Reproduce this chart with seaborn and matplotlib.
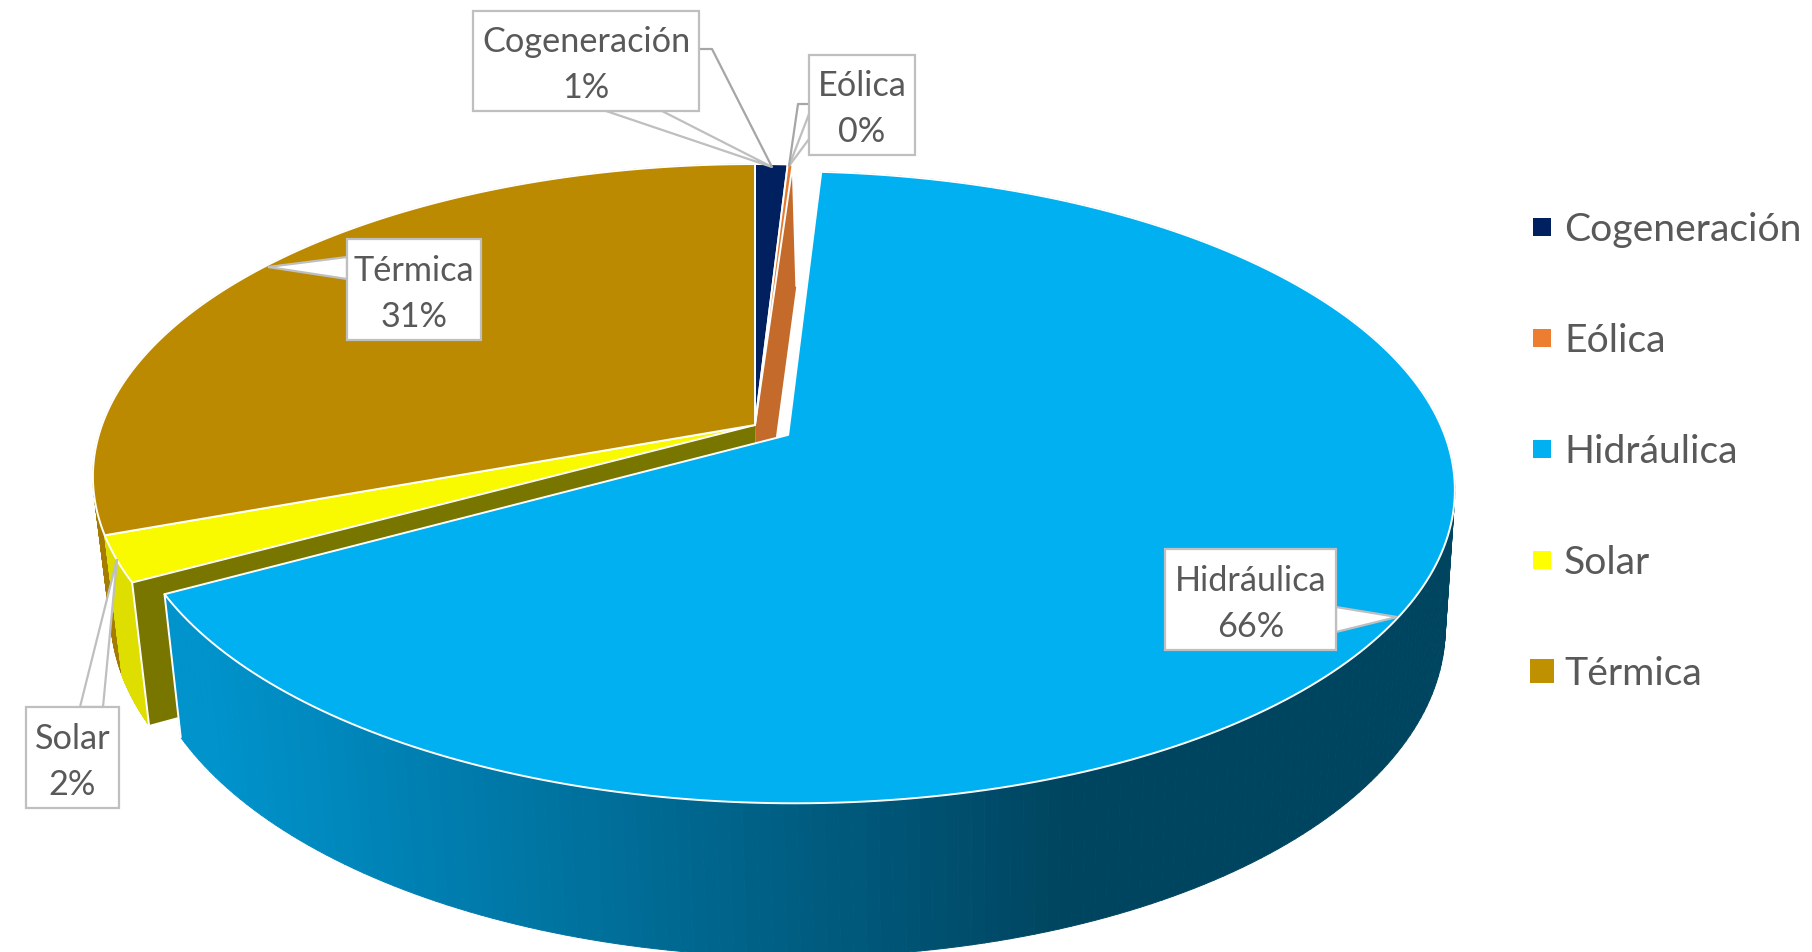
# %%
# Pie chart of generation by source, drawn with a perspective tilt
import numpy as np
import seaborn as sns
import matplotlib.pyplot as plt
from matplotlib.patches import Rectangle, Polygon
from matplotlib.collections import PolyCollection

# Values (percent)
sources = ['Cogeneración', 'Eólica', 'Hidráulica', 'Solar', 'Térmica']
shares = [0.93, 0.14, 66.01, 2.36, 30.56]

legend_colors = sns.color_palette(['#002060', '#ED7D31', '#00B0F0', '#FFFF00', '#BF9000'])
top_colors = ['#002060', '#E5792F', '#00B0F0', '#F9F900', '#BB8A00']
wall_colors = ['#001540', '#C46A2B', '#004560', '#DEDE00', '#A67C00']
text_color = '#595959'
box_color = '#BFBFBF'

# Camera: unit circle to screen pixels
cx, cy = 755, 426
k, a, c = 0.165, 304, 653
bottom_sx, bottom_sy, bottom_dx, bottom_dy = 0.98, 1.05, 4.4, 134.6
explode = 0.06


def top_plane(X, Y):
    w = 1 + k * Y
    return cx + c * X / w, cy - a * Y / w


def bottom_plane(X, Y):
    x, y = top_plane(X, Y)
    return cx + bottom_sx * (x - cx) + bottom_dx, cy + bottom_sy * (y - cy) + bottom_dy


def rim(t0, t1, off=(0, 0), n=240):
    t = np.radians(np.linspace(t0, t1, n))
    return np.sin(t) + off[0], np.cos(t) + off[1]


def hydro_shade(x):
    # left to right shading of the front wall
    left = np.array([0x00, 0x93, 0xCC]) / 255
    right = np.array([0x00, 0x45, 0x60]) / 255
    f = np.clip((x - 220) / (1060 - 220), 0, 1)
    return tuple(left + (right - left) * f)


def wall(ax, t0, t1, color=None, off=(0, 0), zorder=2):
    X, Y = rim(t0, t1, off)
    xt, yt = top_plane(X, Y)
    xb, yb = bottom_plane(X, Y)
    quads, cols = [], []
    for i in range(len(X) - 1):
        quads.append([(xt[i], yt[i]), (xt[i + 1], yt[i + 1]),
                      (xb[i + 1], yb[i + 1]), (xb[i], yb[i])])
        cols.append(color if color else hydro_shade((xb[i] + xb[i + 1]) / 2))
    ax.add_collection(PolyCollection(quads, facecolors=cols, edgecolors=cols,
                                     linewidths=0.7, zorder=zorder))


def top_slice(ax, t0, t1, color, off=(0, 0), zorder=3):
    X, Y = rim(t0, t1, off)
    xt, yt = top_plane(X, Y)
    ax0, ay0 = top_plane(np.array(off[0]), np.array(off[1]))
    pts = np.column_stack([np.r_[ax0, xt], np.r_[ay0, yt]])
    ax.add_patch(Polygon(pts, closed=True, facecolor=color, edgecolor='white',
                         linewidth=1.4, joinstyle='round', zorder=zorder))


def cut_face(ax, t, color, zorder=3):
    X, Y = np.sin(np.radians(t)), np.cos(np.radians(t))
    x1, y1 = top_plane(np.array(X), np.array(Y))
    x2, y2 = bottom_plane(np.array(X), np.array(Y))
    x3, y3 = bottom_plane(np.array(0.0), np.array(0.0))
    pts = [(cx, cy), (x1, y1), (x2, y2), (x3, y3)]
    ax.add_patch(Polygon(pts, closed=True, facecolor=color, edgecolor='none', zorder=zorder))
    ax.plot([x1, x2], [y1, y2], color='white', lw=1.4, zorder=zorder + 0.1)


def callout(ax, box, wedge, label, lines=()):
    x0, y0, x1, y1 = box
    ax.add_patch(Polygon(wedge, closed=True, facecolor='white', edgecolor=box_color,
                         linewidth=1.6, zorder=9))
    ax.add_patch(Rectangle((x0, y0), x1 - x0, y1 - y0, facecolor='white',
                           edgecolor=box_color, linewidth=1.6, zorder=10))
    for ln in lines:
        ax.plot(*zip(*ln), color='#A6A6A6', lw=1.6, zorder=9)
    xm = (x0 + x1) / 2
    h = y1 - y0
    ax.text(xm, y0 + 0.305 * h, label[0], ha='center', va='center', fontsize=FS,
            color=text_color, zorder=11)
    ax.text(xm, y0 + 0.765 * h, label[1], ha='center', va='center', fontsize=FS,
            color=text_color, zorder=11)


FS = 24.7
sns.set_theme(style='white')
plt.rcParams['font.family'] = ['Lato', 'DejaVu Sans']

fig = plt.figure(figsize=(18.12, 9.53), dpi=100)
ax = fig.add_axes([0, 0, 1, 1])
ax.set_xlim(0, 1812)
ax.set_ylim(953, 0)
ax.axis('off')

edges = np.cumsum([0] + shares) * 360 / sum(shares)
hydro_mid = np.radians((edges[2] + edges[3]) / 2)
off = (explode * np.sin(hydro_mid), explode * np.cos(hydro_mid))

# Walls and top of the slices that stay in place
wall(ax, edges[4], edges[5], wall_colors[4], zorder=1)
wall(ax, edges[3], edges[4], wall_colors[3], zorder=1.5)
for i in [0, 1, 3, 4]:
    top_slice(ax, edges[i], edges[i + 1], top_colors[i])
cut_face(ax, edges[2], wall_colors[1], zorder=2)
cut_face(ax, edges[3], '#797600', zorder=2)

# Pulled out slice
wall(ax, edges[2], edges[3], off=off, zorder=5)
X0, Y0 = np.sin(np.radians(edges[3])) + off[0], np.cos(np.radians(edges[3])) + off[1]
x1, y1 = top_plane(np.array(X0), np.array(Y0))
x2, y2 = bottom_plane(np.array(X0), np.array(Y0))
ax.plot([x1, x2], [y1, y2], color='white', lw=1.4, zorder=5.5)
top_slice(ax, edges[2], edges[3], top_colors[2], off=off, zorder=6)

# Callouts
pct = [f'{v:.0f}%' for v in shares]
callout(ax, (473, 12, 699, 112), [(606, 112), (772, 168), (662, 112)], (sources[0], pct[0]),
        lines=[[(699, 50), (712, 50), (772, 168)]])
callout(ax, (809, 56, 915, 156), [(809, 140), (789, 167), (809, 115)], (sources[1], pct[1]),
        lines=[[(809, 105), (798, 105), (789, 167)]])
callout(ax, (1165, 550, 1336, 651), [(1336, 608), (1397, 618), (1336, 633)], (sources[2], pct[2]))
callout(ax, (26, 708, 119, 809), [(80, 708), (117, 560), (103, 708)], (sources[3], pct[3]))
callout(ax, (347, 240, 481, 341), [(347, 258), (268, 268), (347, 280)], (sources[4], pct[4]))

# Legend
legend_y = [228, 339, 450, 561, 672]
legend_size = [18, 18, 18, 18, 24]
for name, col, y, s in zip(sources, legend_colors, legend_y, legend_size):
    ax.add_patch(Rectangle((1542 - s / 2, y - s / 2), s, s, facecolor=col, edgecolor='none'))
    ax.text(1564, y + 2, name, ha='left', va='center', fontsize=28.2, color=text_color)

fig.savefig('out.png', dpi=100)
